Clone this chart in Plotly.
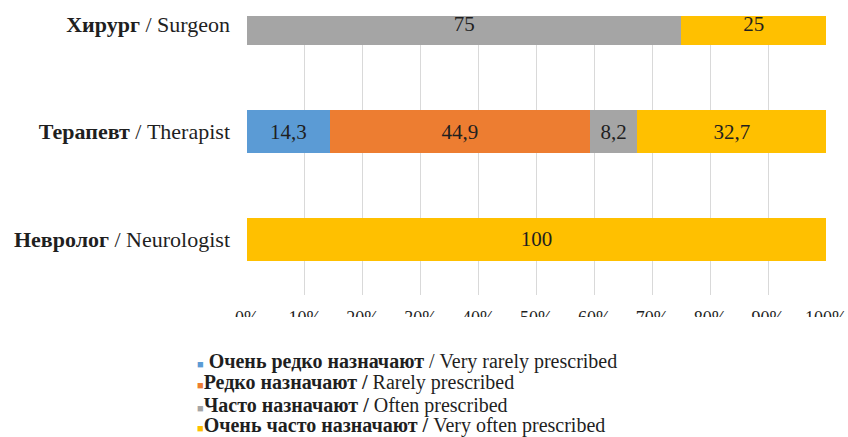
import plotly.graph_objects as go

# Specialists, bottom to top on the category axis
categories = ["<b>Невролог</b> / Neurologist",
              "<b>Терапевт</b> / Therapist",
              "<b>Хирург</b> / Surgeon"]

# Share of answers, % (None = no segment)
very_rarely = [None, 14.3, None]
rarely = [None, 44.9, None]
often = [None, 8.2, 75]
very_often = [100, 32.7, 25]

series_names = [" <b>Очень редко назначают</b> / Very rarely prescribed",
                "<b>Редко назначают /</b> Rarely prescribed",
                "<b>Часто назначают /</b> Often prescribed",
                "<b>Очень часто назначают /</b> Very often prescribed"]
series_values = [very_rarely, rarely, often, very_often]
series_colors = ["#5B9BD5", "#ED7D31", "#A5A5A5", "#FFC000"]

x_ticks = list(range(0, 101, 10))

FONT = "Liberation Serif"
TEXT = "#1f1f1f"

W, H = 848, 437
M_L, M_R, M_T, M_B = 247, 22, 16, 142
PW, PH = W - M_L - M_R, H - M_T - M_B


def px_x(px):
    return (px - M_L) / PW


def px_y(py):
    return (H - M_B - py) / PH


def fmt(v):
    if v is None:
        return ""
    return (f"{v:g}").replace(".", ",")


fig = go.Figure()
for name, vals, color in zip(series_names, series_values, series_colors):
    fig.add_trace(go.Bar(
        y=categories,
        x=vals,
        name=name,
        orientation="h",
        marker=dict(color=color, line=dict(width=0)),
        text=[fmt(v) for v in vals],
        textposition="inside",
        insidetextanchor="middle",
        textangle=0,
        constraintext="none",
        textfont=dict(family=FONT, size=21, color=TEXT),
        width=0.4,
        hoverinfo="skip",
        showlegend=False,
    ))

# Legend block below the chart: coloured square + label per series
legend_rows_y = [361, 383, 405, 426]
for name, color, row_y in zip(series_names, series_colors, legend_rows_y):
    fig.add_annotation(
        x=px_x(195), y=px_y(row_y),
        xref="paper", yref="paper",
        xanchor="left", yanchor="middle",
        showarrow=False,
        align="left",
        text=f"<span style='color:{color};font-size:11px'>■</span>{name}",
        font=dict(family=FONT, size=20, color=TEXT),
    )

# The axis labels run into the legend area and are cut off there
fig.add_shape(
    type="rect", xref="paper", yref="paper", layer="above",
    x0=px_x(150), x1=px_x(848), y0=px_y(317), y1=px_y(346),
    fillcolor="white", line=dict(width=0),
)

fig.update_layout(
    width=W,
    height=H,
    barmode="stack",
    plot_bgcolor="white",
    paper_bgcolor="white",
    margin=dict(l=M_L, r=M_R, t=M_T, b=M_B, autoexpand=False),
    showlegend=False,
    xaxis=dict(
        range=[0, 100],
        tickvals=x_ticks,
        ticktext=[f"{t}%" for t in x_ticks],
        showgrid=True,
        gridcolor="#D9D9D9",
        gridwidth=1,
        zeroline=False,
        showline=False,
        ticks="",
        automargin=False,
        ticklabelstandoff=10,
        tickfont=dict(family=FONT, size=18, color=TEXT),
    ),
    yaxis=dict(
        range=[-0.52, 2.074],
        showgrid=False,
        zeroline=False,
        showline=False,
        ticks="",
        automargin=False,
        ticklabelstandoff=16,
        tickfont=dict(family=FONT, size=22, color=TEXT),
    ),
)

fig.write_html("out.html")
